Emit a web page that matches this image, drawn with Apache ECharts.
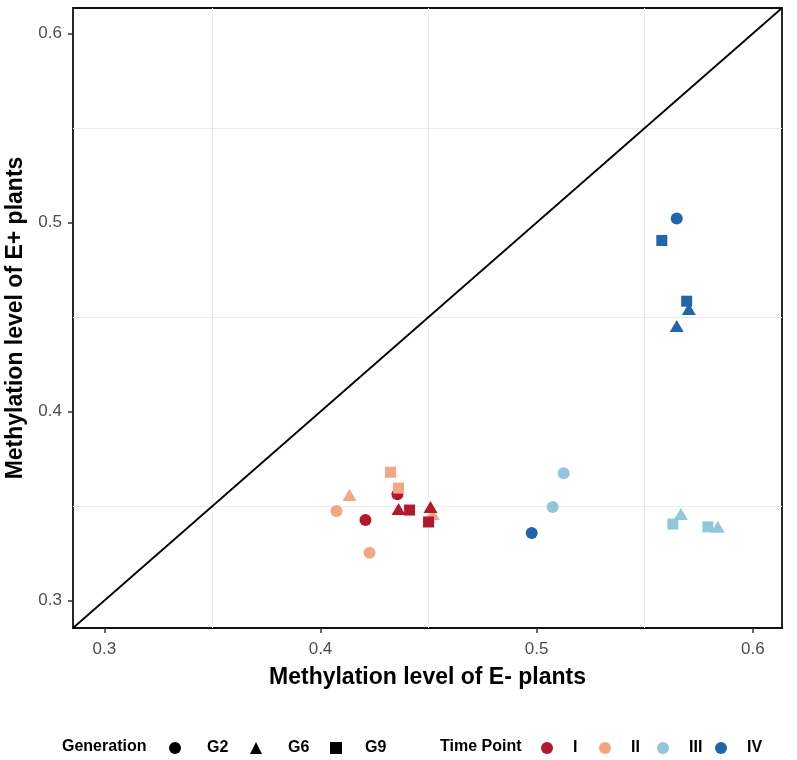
<!DOCTYPE html>
<html>
<head>
<meta charset="utf-8">
<script src="https://cdn.jsdelivr.net/npm/echarts@6/dist/echarts.min.js"></script>
<style>
html,body{margin:0;padding:0;background:#fff;}
#chart{width:797px;height:760px;}
</style>
</head>
<body>
<div id="chart"></div>
<script>
// ---------- data ----------
const timePoints = ['I', 'II', 'III', 'IV'];
const generations = ['G2', 'G6', 'G9'];
const tickValues = [0.3, 0.4, 0.5, 0.6];
const gridValues = [0.35, 0.45, 0.55];
const axisMin = 0.2855;
const axisMax = 0.6135;

// Methylation level of E- plants (x) and E+ plants (y), per time point
const genI   = ['G2', 'G2', 'G6', 'G6', 'G9', 'G9'];
const xI     = [0.4208, 0.4356, 0.4361, 0.4509, 0.4412, 0.4500];
const yI     = [0.3426, 0.3563, 0.3484, 0.3495, 0.3479, 0.3416];

const genII  = ['G2', 'G2', 'G6', 'G6', 'G9', 'G9'];
const xII    = [0.4074, 0.4227, 0.4134, 0.4519, 0.4324, 0.4361];
const yII    = [0.3474, 0.3253, 0.3558, 0.3458, 0.3679, 0.3595];

const genIII = ['G2', 'G2', 'G6', 'G6', 'G9', 'G9'];
const xIII   = [0.5125, 0.5074, 0.5667, 0.5838, 0.5630, 0.5792];
const yIII   = [0.3674, 0.3495, 0.3458, 0.3390, 0.3405, 0.3390];

const genIV  = ['G2', 'G2', 'G6', 'G6', 'G9', 'G9'];
const xIV    = [0.4977, 0.5648, 0.5704, 0.5648, 0.5579, 0.5694];
const yIV    = [0.3358, 0.5021, 0.4542, 0.4453, 0.4905, 0.4584];

// ---------- styles ----------
const tpColors = { I: '#B2182B', II: '#F4A582', III: '#92C5DE', IV: '#2166AC' };
const genSymbols = { G2: 'circle', G6: 'triangle', G9: 'rect' };
const genSizes = { G2: 12, G6: [14, 12], G9: 11 };
const FONT = '"Liberation Sans", Arial, Helvetica, sans-serif';

const tpData = {
  I: { x: xI, y: yI, g: genI },
  II: { x: xII, y: yII, g: genII },
  III: { x: xIII, y: yIII, g: genIII },
  IV: { x: xIV, y: yIV, g: genIV }
};

const drawOrder = [
  ['I', 'G2'], ['II', 'G2'], ['III', 'G2'], ['IV', 'G2'],
  ['II', 'G6'], ['III', 'G6'], ['IV', 'G6'], ['I', 'G6'],
  ['II', 'G9'], ['III', 'G9'], ['IV', 'G9'], ['I', 'G9']
];

const series = [];

// gridlines (host series drawn lowest)
const gridLines = [];
gridValues.forEach(v => {
  gridLines.push({ xAxis: v });
  gridLines.push({ yAxis: v });
});
series.push({
  type: 'scatter',
  name: 'grid',
  data: [],
  silent: true,
  z: 0,
  markLine: {
    silent: true,
    z: 0,
    symbol: ['none', 'none'],
    label: { show: false },
    animation: false,
    lineStyle: { color: '#EBEBEB', width: 1, type: 'solid' },
    emphasis: { disabled: true },
    data: gridLines
  }
});

// y = x reference line
series.push({
  type: 'line',
  name: 'diag',
  data: [[axisMin, axisMin], [axisMax, axisMax]],
  symbol: 'none',
  silent: true,
  z: 1,
  lineStyle: { color: '#000', width: 1.8 }
});

drawOrder.forEach(([tp, g]) => {
  const d = tpData[tp];
  const pts = [];
  d.x.forEach((xv, i) => { if (d.g[i] === g) pts.push([xv, d.y[i]]); });
  series.push({
    type: 'scatter',
    name: tp,
    data: pts,
    symbol: genSymbols[g],
    symbolSize: genSizes[g],
    z: 3,
    itemStyle: { color: tpColors[tp], opacity: 1 }
  });
});

generations.forEach(g => {
  series.push({
    type: 'scatter', name: g, data: [], symbol: genSymbols[g],
    itemStyle: { color: '#000' }
  });
});

// ---------- legends ----------
const legendY = 740;
function legendItem(name, icon, color, center, textPad) {
  return {
    data: [{ name: name, icon: icon, itemStyle: { color: color, opacity: 1 } }],
    left: center - 6, top: legendY, padding: 0,
    itemWidth: 12, itemHeight: 12,
    selectedMode: false,
    textStyle: { fontFamily: FONT, fontSize: 16, fontWeight: 'bold', color: '#000',
                 padding: [0, 0, 0, textPad] }
  };
}
const legends = [
  legendItem('G2', 'circle', '#000', 175, 21),
  legendItem('G6', 'triangle', '#000', 256, 21),
  legendItem('G9', 'rect', '#000', 336, 18),
  legendItem('I', 'circle', tpColors.I, 547, 15),
  legendItem('II', 'circle', tpColors.II, 605, 15),
  legendItem('III', 'circle', tpColors.III, 663, 15),
  legendItem('IV', 'circle', tpColors.IV, 721, 15)
];

const axisCommon = {
  type: 'value',
  min: axisMin,
  max: axisMax,
  nameLocation: 'middle',
  nameTextStyle: { fontFamily: FONT, fontSize: 23, fontWeight: 'bold', color: '#000' },
  axisLine: { show: false },
  axisTick: { show: true, length: 5, customValues: tickValues, lineStyle: { color: '#333', width: 1.5 } },
  axisLabel: { customValues: tickValues, fontFamily: FONT, fontSize: 17, color: '#4D4D4D',
               formatter: v => String(v) },
  splitLine: { show: false }
};

const option = {
  animation: false,
  backgroundColor: '#fff',
  grid: {
    left: 73, right: 15, top: 8, bottom: 132,
    containLabel: false,
    outerBoundsMode: 'none',
    show: true, borderColor: '#111', borderWidth: 1.8, backgroundColor: '#fff'
  },
  xAxis: Object.assign({}, axisCommon, {
    name: 'Methylation level of E- plants',
    nameGap: 38,
    axisLabel: Object.assign({}, axisCommon.axisLabel, { margin: 13 })
  }),
  yAxis: Object.assign({}, axisCommon, {
    name: 'Methylation level of E+ plants',
    nameGap: 44,
    axisLabel: Object.assign({}, axisCommon.axisLabel, { margin: 11 })
  }),
  legend: legends,
  graphic: [
    { type: 'text', left: 62, top: legendY - 1,
      style: { text: 'Generation', font: 'bold 16px ' + FONT, fill: '#000' } },
    { type: 'text', left: 440, top: legendY - 1,
      style: { text: 'Time Point', font: 'bold 16px ' + FONT, fill: '#000' } }
  ],
  series: series
};

const chart = echarts.init(document.getElementById('chart'), null, { renderer: 'canvas' });
chart.setOption(option);
</script>
</body>
</html>
